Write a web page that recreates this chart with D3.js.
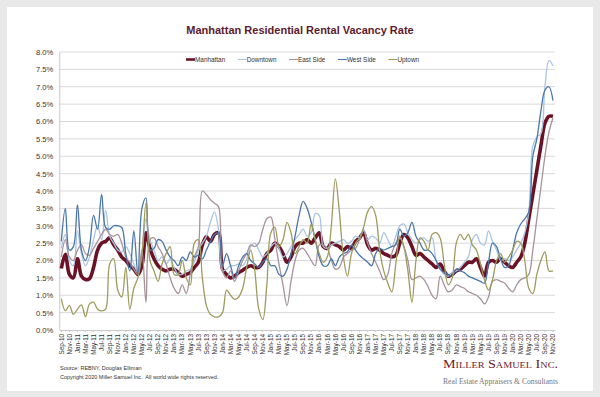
<!DOCTYPE html>
<html>
<head>
<meta charset="utf-8">
<script src="https://cdn.jsdelivr.net/npm/d3@7"></script>
<style>
  body { margin: 0; background: #e9e9e9; }
  svg { display: block; font-family: "Liberation Sans", Arial, sans-serif; }
</style>
</head>
<body>
<svg id="chart" width="600" height="397"></svg>
<script>
// month labels, Sep-10 .. Nov-20
const monthNames = ["Jan","Feb","Mar","Apr","May","Jun","Jul","Aug","Sep","Oct","Nov","Dec"];
const months = d3.range(123).map(i => monthNames[(8 + i) % 12] + "-" + (10 + Math.floor((8 + i) / 12)));

const yTicks = [0, 0.5, 1, 1.5, 2, 2.5, 3, 3.5, 4, 4.5, 5, 5.5, 6, 6.5, 7, 7.5, 8];

const manhattan = [
  1.77, 2.18, 1.6, 1.5, 2.05, 1.55, 1.45, 1.48, 1.8, 2.3, 2.5, 2.55, 2.65, 2.45, 2.3, 2.1, 2.0, 1.85, 1.75, 1.6, 1.85, 2.8, 2.35, 2.05, 1.85, 1.75, 1.7, 1.75, 1.75, 1.65, 1.55,
  1.6, 1.65, 1.8, 1.95, 2.45, 2.68, 2.55, 2.75, 2.8, 1.75, 1.6, 1.5, 1.55, 1.65, 1.72, 1.8, 1.85, 1.8, 1.8, 1.95, 2.2, 2.3, 2.5, 2.4, 2.2, 1.95, 2.1, 2.4, 2.5, 2.5, 2.6,
  2.5, 2.65, 2.8, 2.4, 2.35, 2.5, 2.45, 2.4, 2.3, 2.4, 2.35, 2.55, 2.65, 2.8, 2.45, 2.3, 2.35, 2.3, 2.2, 2.15, 2.1, 2.15, 2.5, 2.75, 2.65, 2.4, 2.15, 2.2, 2.1, 2.0, 1.9,
  1.8, 1.9, 1.7, 1.55, 1.6, 1.7, 1.75, 1.85, 1.95, 1.95, 2.05, 1.8, 1.55, 1.95, 2.0, 1.95, 2.05, 1.95, 1.85, 1.8, 1.95, 2.1, 2.5, 3.2, 3.9, 4.6, 5.3, 5.95, 6.15, 6.15
];
const downtown = [
  2.35, 2.75, 2.0, 1.85, 2.85, 2.2, 1.85, 2.1, 2.6, 3.0, 2.6, 3.45, 2.7, 2.5, 2.3, 2.25, 2.4, 2.2, 1.9, 1.65, 2.2, 3.2, 2.6, 2.3, 2.0, 2.1, 1.9, 2.05, 1.8, 1.6, 1.6,
  1.7, 1.75, 1.95, 2.3, 2.5, 2.7, 3.1, 3.4, 2.9, 1.7, 1.75, 1.85, 1.85, 1.9, 1.85, 2.05, 2.4, 2.5, 2.3, 2.1, 2.2, 2.4, 2.5, 2.35, 2.1, 2.2, 2.4, 2.6, 2.75, 2.9, 2.7,
  2.8, 3.35, 3.3, 2.4, 2.35, 2.45, 2.5, 2.55, 2.6, 2.5, 2.55, 2.7, 2.65, 2.9, 2.6, 2.7, 2.65, 2.5, 2.8, 2.6, 2.4, 2.7, 3.0, 3.05, 2.8, 2.6, 2.5, 2.6, 2.65, 2.55, 2.65,
  2.0, 1.75, 1.6, 1.55, 1.65, 1.7, 1.8, 1.95, 2.1, 2.6, 2.75, 2.5, 2.45, 2.85, 2.55, 2.3, 2.0, 2.05, 2.0, 2.1, 2.3, 2.5, 2.8, 3.4, 5.3, 5.55, 5.65, 7.0, 7.75, 7.6
];
const eastSide = [
  2.1, 2.6, 2.1, 2.0, 2.3, 2.45, 2.2, 2.15, 2.35, 2.55, 2.75, 2.9, 2.75, 2.7, 2.75, 2.5, 2.1, 1.95, 1.75, 1.6, 2.3, 0.8, 2.6, 2.65, 2.4, 2.2, 1.9, 1.5, 1.2, 1.05, 1.3,
  1.05, 1.6, 2.1, 2.4, 4.0, 3.9, 3.75, 3.65, 3.55, 1.7, 1.5, 1.7, 1.4, 1.7, 2.0, 2.2, 2.45, 2.4, 2.5, 2.9, 3.2, 3.25, 2.6, 1.9, 1.3, 0.7, 1.4, 2.0, 2.3, 2.35, 2.2,
  2.0, 1.85, 2.45, 2.45, 2.35, 2.0, 1.75, 1.8, 2.1, 2.2, 2.3, 2.35, 2.6, 2.85, 2.5, 2.2, 1.95, 1.7, 1.45, 1.6, 2.2, 2.5, 2.65, 2.4, 2.0, 1.45, 1.5, 1.55, 1.45, 1.25, 1.0,
  0.9, 1.55, 1.3, 1.1, 1.15, 1.3, 1.25, 1.2, 1.1, 1.05, 1.0, 0.9, 0.75, 0.95, 1.4, 1.45, 1.4, 1.35, 1.2, 1.1, 1.3, 1.45, 1.5, 1.6, 2.3, 3.2, 4.1, 5.0, 5.7, 6.1
];
const westSide = [
  2.55, 3.5, 2.3, 2.4, 3.6, 2.3, 2.0, 2.4, 3.3, 2.9, 3.9, 2.95, 2.9, 3.0, 3.0, 2.95, 2.2, 1.7, 2.85, 1.6, 3.5, 3.8, 2.3, 2.35, 2.6, 2.55, 2.3, 2.1, 2.0, 1.85, 2.1,
  2.0, 2.25, 2.1, 2.15, 2.05, 2.3, 2.55, 2.75, 2.8, 1.85, 2.2, 1.85, 1.5, 1.85, 2.1, 2.2, 2.0, 1.9, 1.8, 1.95, 2.05, 1.85, 1.85, 1.6, 1.55, 1.75, 2.2, 2.7, 3.3, 3.7, 3.5,
  3.1, 2.6, 2.1, 1.85, 1.85, 2.05, 1.85, 2.1, 2.2, 2.25, 2.45, 2.3, 2.15, 2.05, 1.95, 1.85, 2.2, 2.35, 2.3, 2.35, 2.4, 2.45, 2.9, 2.7, 2.8, 3.1, 2.7, 2.5, 2.3, 2.3, 2.2,
  2.0, 1.75, 1.65, 1.6, 1.55, 1.75, 1.7, 1.65, 1.55, 1.5, 1.45, 1.4, 1.35, 1.95, 2.5, 2.4, 2.05, 1.8, 1.85, 2.3, 2.8, 3.05, 3.2, 3.4, 5.0, 5.5, 6.3, 6.9, 7.0, 6.6
];
const uptown = [
  0.9, 0.55, 0.7, 0.45, 0.6, 0.72, 0.38, 0.75, 0.8, 0.6, 0.55, 0.6, 1.9, 2.05, 1.15, 0.95, 1.8, 0.6, 1.2, 1.5, 2.2, 3.65, 2.0, 1.7, 1.4, 1.9, 2.2, 2.4, 1.6, 1.6, 2.0,
  1.5, 1.3, 2.5, 2.6, 1.5, 0.7, 0.45, 0.38, 0.38, 0.5, 1.15, 1.0, 0.88, 0.95, 1.2, 1.8, 2.3, 1.7, 0.6, 0.3, 1.3, 2.8, 2.95, 2.4, 2.6, 3.1, 2.8, 2.2, 2.4, 2.6, 2.5,
  3.05, 2.6, 2.2, 1.95, 2.1, 3.0, 4.35, 3.4, 2.1, 1.55, 2.2, 2.5, 2.65, 2.95, 3.4, 3.55, 3.3, 2.3, 1.7, 1.35, 1.1, 1.9, 2.7, 2.4, 1.7, 0.8, 2.0, 2.65, 2.55, 2.3, 2.75,
  2.8, 2.65, 1.9, 1.3, 1.5, 2.5, 2.75, 2.6, 2.75, 2.45, 2.3, 1.9, 1.45, 1.15, 1.45, 2.0, 2.2, 1.95, 2.1, 2.3, 2.55, 2.5, 2.0, 1.2, 1.05, 1.6, 2.0, 2.25, 1.7, 1.7
];

const series = [
  {name: "Manhattan", values: manhattan, color: "#6a1326", width: 3.6},
  {name: "Downtown",  values: downtown,  color: "#a9c5e2", width: 1.3},
  {name: "East Side", values: eastSide,  color: "#a8929c", width: 1.3},
  {name: "West Side", values: westSide,  color: "#4a76a9", width: 1.3},
  {name: "Uptown",    values: uptown,    color: "#9e9b5e", width: 1.3}
];

const svg = d3.select("#chart");

// white panel on grey frame
svg.append("rect").attr("x", 7).attr("y", 7).attr("width", 586).attr("height", 384).attr("fill", "#fff");

const plot = {left: 59.3, right: 555, top: 52, bottom: 330};

const x = d3.scaleBand().domain(months).range([plot.left, plot.right]);
const y = d3.scaleLinear().domain([0, 8]).range([plot.bottom, plot.top]);
const cx = d => x(d) + x.bandwidth() / 2;

// gridlines
svg.append("g").selectAll("line").data(yTicks.slice(1)).join("line")
  .attr("x1", plot.left).attr("x2", plot.right)
  .attr("y1", d => y(d)).attr("y2", d => y(d))
  .attr("stroke", "#d9d9d9").attr("stroke-width", 1);

// y axis
const yAxis = svg.append("g").attr("transform", `translate(${plot.left},0)`)
  .call(d3.axisLeft(y).tickValues(yTicks).tickFormat(d => d.toFixed(1) + "%").tickSize(0).tickPadding(6));
yAxis.select(".domain").attr("stroke", "#c8c8c8");
yAxis.selectAll("text").attr("font-size", "7.6px").attr("fill", "#333").attr("font-family", "Liberation Sans, Arial, sans-serif");

// x axis
const xAxis = svg.append("g").attr("transform", `translate(0,${plot.bottom})`)
  .call(d3.axisBottom(x).tickValues(months.filter((d, i) => i % 2 === 0)).tickSize(2).tickSizeOuter(0));
xAxis.select(".domain").attr("stroke", "#c8c8c8");
xAxis.selectAll(".tick line").attr("stroke", "#c8c8c8");
xAxis.selectAll("text")
  .attr("transform", "rotate(-90)")
  .attr("x", -4).attr("y", 0).attr("dy", "0.35em")
  .attr("text-anchor", "end")
  .attr("font-size", "6.4px").attr("fill", "#333")
  .attr("font-family", "Liberation Sans, Arial, sans-serif");

// lines
const line = d3.line()
  .x((d, i) => cx(months[i]))
  .y(d => y(d))
  .curve(d3.curveCatmullRom.alpha(0.5));

svg.append("g").selectAll("path").data(series).join("path")
  .attr("d", d => line(d.values))
  .attr("fill", "none")
  .attr("stroke", d => d.color)
  .attr("stroke-width", d => d.width)
  .attr("stroke-linejoin", "round");

// title
svg.append("text")
  .attr("x", 300).attr("y", 33.5)
  .attr("text-anchor", "middle")
  .attr("font-size", "11px").attr("font-weight", "bold")
  .attr("fill", "#5c1a2c")
  .text("Manhattan Residential Rental Vacancy Rate");

// legend
const legend = svg.append("g").attr("transform", "translate(186,59.5)");
let lx = 0;
series.forEach(s => {
  legend.append("line")
    .attr("x1", lx).attr("x2", lx + 9).attr("y1", 0).attr("y2", 0)
    .attr("stroke", s.color).attr("stroke-width", s.width === 1.3 ? 1.1 : 2.6);
  const t = legend.append("text")
    .attr("x", lx + 9).attr("y", 0).attr("dy", "0.35em")
    .attr("font-size", "6.4px").attr("fill", "#333")
    .text(s.name);
  lx += 9 + t.node().getComputedTextLength() + 12.5;
});

// footer
svg.append("text").attr("x", 60).attr("y", 369.5)
  .attr("font-size", "5.5px").attr("fill", "#333")
  .text("Source: REBNY, Douglas Elliman");
svg.append("text").attr("x", 60).attr("y", 378.5)
  .attr("font-size", "5.5px").attr("fill", "#333")
  .text("Copyright 2020 Miller Samuel Inc.  All world wide rights reserved.")
  .attr("xml:space", "preserve");

svg.append("text").attr("x", 443).attr("y", 368.3)
  .attr("font-family", "Liberation Serif, Times New Roman, serif")
  .attr("font-size", "12.5px").style("font-variant", "small-caps")
  .attr("fill", "#6b1a2c")
  .attr("textLength", 115).attr("lengthAdjust", "spacingAndGlyphs")
  .text("Miller Samuel Inc.");
svg.append("text").attr("x", 443).attr("y", 384)
  .attr("font-family", "Liberation Serif, Times New Roman, serif")
  .attr("font-size", "7.4px")
  .attr("fill", "#777")
  .attr("textLength", 115).attr("lengthAdjust", "spacingAndGlyphs")
  .text("Real Estate Appraisers & Consultants");
</script>
</body>
</html>
